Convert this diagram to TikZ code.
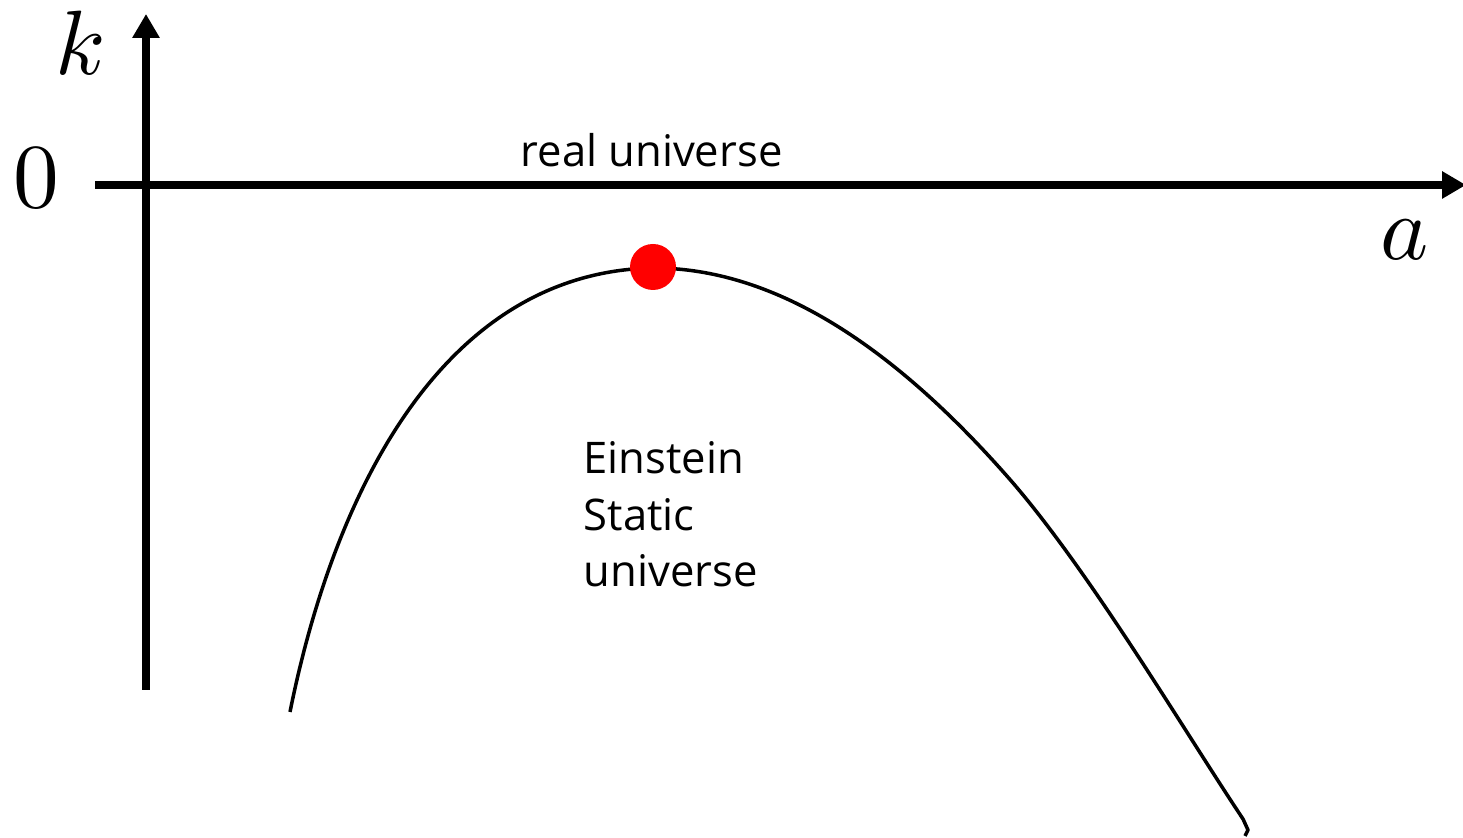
\documentclass[tikz,border=0pt]{standalone}
\usepackage{amsmath, amssymb}
\usepackage{fontspec}
\setmainfont{Open Sans}
\usepackage{unicode-math}
\setmathfont{Latin Modern Math}
\usetikzlibrary{arrows.meta}

\begin{document}
\begin{tikzpicture}[
    axis/.style={line width=2.1pt, -{Triangle[length=0.24cm, width=0.26cm]}},
    axlabel/.style={inner sep=0pt, font=\fontsize{26}{30}\selectfont},
    curvelabel/.style={inner sep=0pt, align=left, font=\fontsize{12.4}{16.2}\selectfont}]
  \useasboundingbox (0,0) rectangle (14.63,8.38);
  \coordinate (kbot) at (1.46,1.48);
  \coordinate (ktop) at (1.46,8.24);
  \coordinate (aleft) at (0.95,6.53);
  \coordinate (aright) at (14.66,6.53);
  \draw[axis] (kbot) -- (ktop);
  \draw[axis] (aleft) -- (aright);
  \node[axlabel, anchor=base] (klabel) at (0.80,7.63) {$k$};
  \node[axlabel, anchor=base] (zero) at (0.36,6.30) {$0$};
  \node[axlabel, anchor=base] (alabel) at (14.05,5.78) {$a$};
  \node[curvelabel, anchor=base west] (real) at (5.20,6.71) {real universe};
  \coordinate (start) at (2.90,1.26);
  \coordinate (peak) at (6.53,5.70);
  \coordinate (mid) at (10.06,3.63);
  \coordinate (stop) at (12.43,0.19);
  \draw[line width=1pt, line join=round] (start) .. controls (3.35,3.5) and (4.45,5.66) .. (peak)
    .. controls (7.6,5.70) and (8.76,5.10) .. (mid)
    .. controls (10.86,2.73) and (11.83,1.09) .. (stop) -- (12.48,0.08) -- (12.45,0.02);
  \node[circle, fill=red, minimum size=0.46cm, inner sep=0pt] (es) at (6.53,5.71) {};
  \node[curvelabel, anchor=base west] (static) at (5.83,2.51) {Einstein\\Static\\universe};
\end{tikzpicture}
\end{document}
